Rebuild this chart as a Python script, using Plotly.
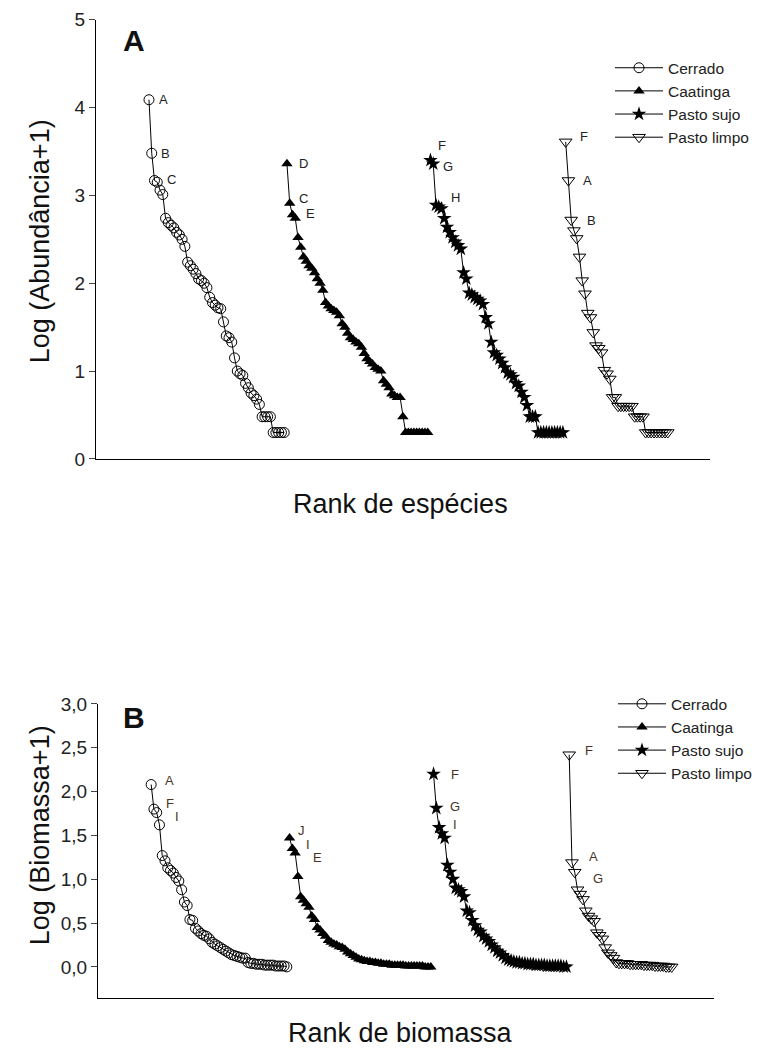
import plotly.graph_objects as go

# Habitats, in plotting order along the rank axis
habitats = ["Cerrado", "Caatinga", "Pasto sujo", "Pasto limpo"]

# log10(abundance + 1) per species, ranked from most to least abundant
cerrado_abund = [4.09, 3.48, 3.17, 3.15, 3.06, 3.01, 2.74, 2.69, 2.66, 2.63,
                 2.58, 2.55, 2.50, 2.42, 2.24, 2.20, 2.16, 2.11, 2.05, 2.03,
                 2.00, 1.95, 1.84, 1.78, 1.75, 1.72, 1.71, 1.56, 1.40, 1.38,
                 1.33, 1.15, 1.00, 0.97, 0.95, 0.86, 0.81, 0.75, 0.72, 0.68,
                 0.62, 0.48, 0.48, 0.48, 0.48, 0.30, 0.30, 0.30, 0.30, 0.30]
caatinga_abund = [3.36, 2.91, 2.78, 2.74, 2.52, 2.41, 2.30, 2.25, 2.20, 2.17,
                  2.12, 2.05, 2.00, 1.92, 1.78, 1.74, 1.71, 1.69, 1.67, 1.63,
                  1.54, 1.50, 1.43, 1.38, 1.36, 1.33, 1.31, 1.27, 1.20, 1.14,
                  1.11, 1.08, 1.04, 1.02, 1.00, 0.89, 0.85, 0.81, 0.74, 0.72,
                  0.70, 0.70, 0.48, 0.30, 0.30, 0.30, 0.30, 0.30, 0.30, 0.30,
                  0.30, 0.30]
sujo_abund = [3.40, 3.36, 2.89, 2.87, 2.85, 2.74, 2.64, 2.58, 2.52, 2.47,
              2.43, 2.39, 2.12, 2.05, 1.89, 1.87, 1.84, 1.82, 1.80, 1.76,
              1.61, 1.54, 1.33, 1.21, 1.18, 1.14, 1.09, 1.04, 0.98, 0.96,
              0.93, 0.86, 0.83, 0.76, 0.70, 0.61, 0.48, 0.48, 0.48, 0.30,
              0.30, 0.30, 0.30, 0.30, 0.30, 0.30, 0.30, 0.30, 0.30]
limpo_abund = [3.61, 3.17, 2.72, 2.60, 2.51, 2.30, 2.03, 1.88, 1.66, 1.61,
               1.44, 1.29, 1.26, 1.21, 1.01, 0.97, 0.91, 0.70, 0.70, 0.60,
               0.60, 0.60, 0.60, 0.60, 0.60, 0.48, 0.48, 0.48, 0.48, 0.30,
               0.30, 0.30, 0.30, 0.30, 0.30, 0.30, 0.30, 0.30]

# log10(biomass + 1) per species, ranked from highest to lowest biomass
cerrado_biom = [2.08, 1.80, 1.76, 1.62, 1.27, 1.21, 1.13, 1.10, 1.07, 1.02,
                0.98, 0.88, 0.74, 0.70, 0.54, 0.53, 0.44, 0.41, 0.38, 0.36,
                0.35, 0.32, 0.28, 0.26, 0.24, 0.22, 0.20, 0.18, 0.16, 0.14,
                0.13, 0.12, 0.11, 0.10, 0.10, 0.05, 0.04, 0.04, 0.03, 0.03,
                0.03, 0.02, 0.02, 0.02, 0.02, 0.01, 0.01, 0.01, 0.01, 0.00]
caatinga_biom = [1.47, 1.35, 1.30, 1.03, 0.80, 0.76, 0.72, 0.68, 0.58, 0.54,
                 0.45, 0.42, 0.38, 0.35, 0.30, 0.28, 0.26, 0.25, 0.23, 0.22,
                 0.20, 0.17, 0.15, 0.13, 0.11, 0.09, 0.08, 0.07, 0.06, 0.06,
                 0.05, 0.05, 0.04, 0.04, 0.03, 0.03, 0.03, 0.02, 0.02, 0.02,
                 0.02, 0.02, 0.01, 0.01, 0.01, 0.01, 0.01, 0.01, 0.01, 0.00,
                 0.00, 0.00]
sujo_biom = [2.20, 1.81, 1.59, 1.52, 1.47, 1.16, 1.08, 1.00, 0.90, 0.88,
             0.86, 0.80, 0.64, 0.62, 0.53, 0.47, 0.42, 0.40, 0.35, 0.32,
             0.29, 0.25, 0.22, 0.18, 0.16, 0.13, 0.10, 0.08, 0.07, 0.06,
             0.05, 0.05, 0.04, 0.04, 0.03, 0.03, 0.03, 0.02, 0.02, 0.02,
             0.02, 0.01, 0.01, 0.01, 0.01, 0.01, 0.01, 0.00, 0.00]
limpo_biom = [2.42, 1.19, 1.08, 0.88, 0.83, 0.77, 0.64, 0.58, 0.55, 0.52,
              0.39, 0.36, 0.32, 0.22, 0.16, 0.13, 0.10, 0.05, 0.04, 0.04,
              0.04, 0.04, 0.03, 0.03, 0.03, 0.03, 0.03, 0.02, 0.02, 0.02,
              0.02, 0.01, 0.01, 0.01, 0.01, 0.00, 0.00, 0.00]

# Species letter codes shown next to the top-ranked points of each curve
abund_tags = [["A", "B", "C"], ["D", "C", "E"], ["F", "G", "H"], ["F", "A", "B"]]
biom_tags = [["A", "F", "I"], ["J", "I", "E"], ["F", "G", "I"], ["F", "A", "G"]]

abund_ticks = [0, 1, 2, 3, 4, 5]
biom_ticks = [0.0, 0.5, 1.0, 1.5, 2.0, 2.5, 3.0]

FONT = "Arial, Liberation Sans, sans-serif"
W, H = 771, 1054

markers = [
    dict(symbol="circle-open", size=10, color="black", line=dict(width=1)),
    dict(symbol="triangle-up", size=10, color="black", line=dict(width=0)),
    dict(symbol="star", size=11, color="black", line=dict(width=0)),
    dict(symbol="triangle-down-open", size=11, color="black", line=dict(width=1)),
]

# label offsets (px) for the three tagged points of each curve
abund_offsets = [[(15, 0), (14, 0), (17, 1)],
                 [(17, 0), (14, 5), (18, 1)],
                 [(12, 15), (15, -3), (20, 8)],
                 [(18, 5), (19, 0), (20, 0)]]
biom_offsets = [[(18, 4), (16, 6), (20, -4)],
                [(12, 8), (16, 4), (22, -5)],
                [(21, 0), (19, 2), (16, 3)],
                [(20, 4), (22, 6), (23, -6)]]
label_colors = ["#222222", "#4a3322"]

# plot-area edges in page pixels
A_TOP, A_BOTTOM, A_LEFT, A_RIGHT = 10, 458, 96, 710
B_TOP, B_BOTTOM, B_LEFT, B_RIGHT = 708, 1008, 98, 714

fig = go.Figure()

annotations = []


def add_panel(values_list, tags, offsets, xa, ya, legend_name, tag_color):
    start = 1
    for name, vals, mk, tg, off in zip(habitats, values_list, markers, tags, offsets):
        ranks = list(range(start, start + len(vals)))
        fig.add_trace(go.Scatter(
            x=ranks, y=vals, name=name, mode="lines+markers",
            line=dict(color="black", width=1),
            marker=mk, xaxis=xa, yaxis=ya, legend=legend_name,
            legendgroup=legend_name + name,
        ))
        for i, letter in enumerate(tg):
            annotations.append(dict(
                x=ranks[i], y=vals[i], xref=xa, yref=ya, text=letter,
                showarrow=False, xshift=off[i][0], yshift=off[i][1],
                xanchor="center", yanchor="middle",
                font=dict(family=FONT, size=13, color=tag_color),
            ))
        start += len(vals)


add_panel([cerrado_abund, caatinga_abund, sujo_abund, limpo_abund],
          abund_tags, abund_offsets, "x", "y", "legend", label_colors[0])
add_panel([cerrado_biom, caatinga_biom, sujo_biom, limpo_biom],
          biom_tags, biom_offsets, "x2", "y2", "legend2", label_colors[1])

xrange = [-18.2, 204.3]

axis_common = dict(showline=True, linecolor="black", linewidth=1,
                   showgrid=False, zeroline=False, mirror=False)
tickfont = dict(size=19, family=FONT, color="#222222")
legend_font = dict(size=15.5, family=FONT, color="#222222")

fig.update_layout(
    width=W, height=H,
    margin=dict(l=0, r=0, t=0, b=0),
    plot_bgcolor="white", paper_bgcolor="white",
    separators=",.",
    font=dict(family=FONT, color="black"),
    xaxis=dict(domain=[A_LEFT / W, A_RIGHT / W], range=xrange, showticklabels=False,
               ticks="", anchor="y", **axis_common),
    yaxis=dict(domain=[1 - A_BOTTOM / H, 1 - A_TOP / H], range=[0, 5],
               tickvals=abund_ticks, ticks="outside", ticklen=6,
               tickfont=tickfont, anchor="x", **axis_common),
    xaxis2=dict(domain=[B_LEFT / W, B_RIGHT / W], range=xrange, showticklabels=False,
                ticks="", anchor="y2", **axis_common),
    yaxis2=dict(domain=[1 - B_BOTTOM / H, 1 - B_TOP / H], range=[-0.354, 3.0],
                tickvals=biom_ticks, tickformat=".1f", ticks="outside", ticklen=6,
                tickfont=tickfont, anchor="x2", **axis_common),
    legend=dict(x=610 / W, y=1 - 42 / H, xanchor="left", yanchor="top",
                font=legend_font, bgcolor="rgba(0,0,0,0)",
                tracegroupgap=0, itemwidth=48),
    legend2=dict(x=613 / W, y=1 - 691 / H, xanchor="left", yanchor="top",
                 font=legend_font, bgcolor="rgba(0,0,0,0)",
                 tracegroupgap=0, itemwidth=48),
    showlegend=True,
)

# panel letters and axis titles
titles = [
    dict(text="<b>A</b>", x=134, y=31, size=30, angle=0),
    dict(text="<b>B</b>", x=134, y=722, size=30, angle=0),
    dict(text="Log (Abundância+1)", x=40, y=236, size=27, angle=-90),
    dict(text="Log (Biomassa+1)", x=40, y=842, size=27, angle=-90),
    dict(text="Rank de espécies", x=400, y=504, size=27, angle=0),
    dict(text="Rank de biomassa", x=400, y=1044, size=27, angle=0),
]
for t in titles:
    annotations.append(dict(
        text=t["text"], x=t["x"] / W, y=1 - t["y"] / H, xref="paper", yref="paper",
        showarrow=False, textangle=t["angle"], xanchor="center", yanchor="middle",
        font=dict(family=FONT, size=t["size"], color="#111111"),
    ))

fig.update_layout(annotations=annotations)

fig.write_html("out.html")
